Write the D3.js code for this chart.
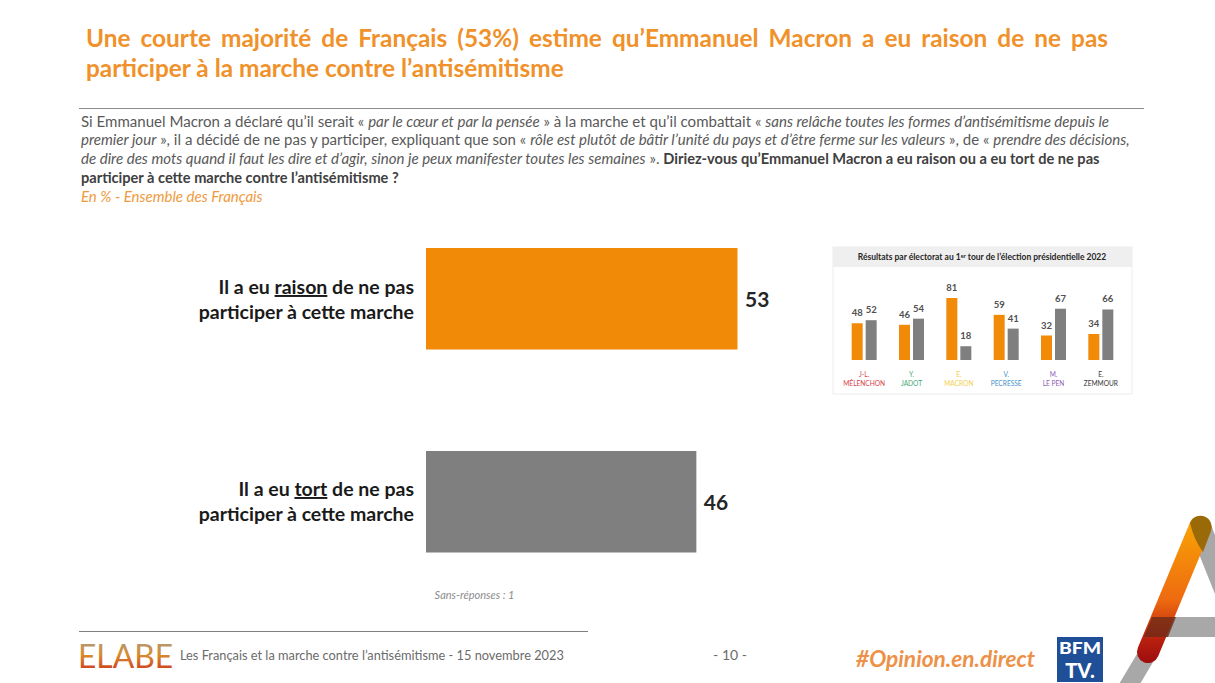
<!DOCTYPE html>
<html><head><meta charset="utf-8">
<script src="https://cdn.jsdelivr.net/npm/d3@7/dist/d3.min.js"></script>
<style>html,body{margin:0;padding:0;background:#fff;overflow:hidden}svg{display:block}text{font-family:Lato,"Open Sans",sans-serif}</style>
</head><body><svg id="c" width="1215" height="683"></svg>
<script>
const mainCats=[["Il a eu ","raison"," de ne pas","participer à cette marche"],["Il a eu ","tort"," de ne pas","participer à cette marche"]];
const mainValues=[53,46];
const mainColors=["#f18a06","#7f7f7f"];
const candidates=[["J-L.","MÉLENCHON"],["Y.","JADOT"],["E.","MACRON"],["V.","PECRESSE"],["M.","LE PEN"],["E.","ZEMMOUR"]];
const candColors=["#d8404a","#3faa78","#f2cf4e","#4a8fc8","#8e5bb5","#333333"];
const raisonValues=[48,46,81,59,32,34];
const tortValues=[52,54,18,41,67,66];
const titleLines=["Une courte majorité de Français (53%) estime qu’Emmanuel Macron a eu raison de ne pas","participer à la marche contre l’antisémitisme"];
const bodyLines=[
 [["n","Si Emmanuel Macron a déclaré qu’il serait « "],["i","par le cœur et par la pensée"],["n"," » à la marche et qu’il combattait « "],["i","sans relâche toutes les formes d’antisémitisme depuis le"]],
 [["i","premier jour"],["n"," », il a décidé de ne pas y participer, expliquant que son « "],["i","rôle est plutôt de bâtir l’unité du pays et d’être ferme sur les valeurs"],["n"," », de « "],["i","prendre des décisions,"]],
 [["i","de dire des mots quand il faut les dire et d’agir, sinon je peux manifester toutes les semaines"],["n"," ». "],["b","Diriez-vous qu’Emmanuel Macron a eu raison ou a eu tort de ne pas"]],
 [["b","participer à cette marche contre l’antisémitisme ?"]]
];
const svg=d3.select("#c");
const defs=svg.append("defs");
const g1=defs.append("linearGradient").attr("id","ag").attr("gradientUnits","userSpaceOnUse").attr("x1",0).attr("y1",527).attr("x2",0).attr("y2",660);
[[0,"#f7a006"],[.55,"#ee6a10"],[.85,"#b8200e"],[1,"#a00f0f"]].forEach(s=>g1.append("stop").attr("offset",s[0]).attr("stop-color",s[1]));
const g2=defs.append("linearGradient").attr("id","eg").attr("x1",0).attr("y1",0).attr("x2",0).attr("y2",1);
[[0,"#a0a0a0"],[.5,"#d98a2a"],[1,"#c8261c"]].forEach(s=>g2.append("stop").attr("offset",s[0]).attr("stop-color",s[1]));

// title
const title=svg.append("g").selectAll("text").data(titleLines).join("text")
 .attr("x",86).attr("y",(d,i)=>47+i*30).attr("fill","#f0912a").attr("font-size",24.4).attr("font-weight",700).text(d=>d);
title.filter((d,i)=>i===0).each(function(d){const w=this.getComputedTextLength();const n=d.split(" ").length-1;d3.select(this).attr("word-spacing",(1022-w)/n);});

svg.append("line").attr("x1",79).attr("x2",1144).attr("y1",108.5).attr("y2",108.5).attr("stroke","#8c8c8c").attr("stroke-width",1.2);

// question
const body=svg.append("g").attr("font-size",15.05).attr("fill","#595959");
bodyLines.forEach((l,i)=>{
 const t=body.append("text").attr("x",81).attr("y",126.5+i*18.9);
 l.forEach(s=>{const sp=t.append("tspan").text(s[1]);
  if(s[0]==="i")sp.attr("font-style","italic");
  if(s[0]==="b")sp.attr("font-weight",700).attr("font-size",14.6).attr("fill","#404040");});
});
svg.append("text").attr("x",81).attr("y",202).attr("font-size",15).attr("font-style","italic").attr("fill","#ef9a3c").text("En % - Ensemble des Français");

// main bars
const x=d3.scaleLinear().domain([0,53]).range([426,737.5]);
const yb=i=>[248,451][i];
svg.append("g").selectAll("rect").data(mainValues).join("rect")
 .attr("x",x(0)).attr("y",(d,i)=>yb(i)).attr("width",d=>x(d)-x(0)).attr("height",101.5).attr("fill",(d,i)=>mainColors[i]);
svg.append("g").selectAll("text").data(mainValues).join("text")
 .attr("x",d=>x(d)+7.5).attr("y",(d,i)=>yb(i)+59).attr("font-size",21).attr("font-weight",700).attr("fill","#262626").text(d=>d);
const cl=svg.append("g").attr("font-size",19.5).attr("font-weight",700).attr("fill","#1a1a1a").attr("text-anchor","end");
mainCats.forEach((c,i)=>{
 const t=cl.append("text").attr("x",414).attr("y",yb(i)+46-i);
 t.append("tspan").text(c[0]);
 t.append("tspan").attr("text-decoration","underline").text(c[1]);
 t.append("tspan").text(c[2]);
 cl.append("text").attr("x",414).attr("y",yb(i)+71-i).text(c[3]);
});
svg.append("text").attr("x",474.5).attr("y",599).attr("text-anchor","middle").attr("font-size",11).attr("font-style","italic").attr("fill","#8c8c8c").text("Sans-réponses : 1");

// inset
const ins=svg.append("g");
ins.append("rect").attr("x",833).attr("y",247).attr("width",299).attr("height",147).attr("fill","#fff").attr("stroke","#f0f0f0").attr("stroke-width",1.2);
ins.append("rect").attr("x",833).attr("y",247).attr("width",299).attr("height",20).attr("fill","#efefef");
const ht=ins.append("text").attr("x",982).attr("y",260).attr("text-anchor","middle").attr("font-size",8.5).attr("font-weight",700).attr("fill","#262626");
ht.append("tspan").text("Résultats par électorat au 1");
ht.append("tspan").attr("font-size",5.5).attr("dy",-2).text("er");
ht.append("tspan").attr("dy",2).text(" tour de l’élection présidentielle 2022");
const ix=d3.scaleBand().domain(d3.range(6)).range([840.5,1124.5]).padding(0);
const iy=d3.scaleLinear().domain([0,81]).range([360,298]);
const bw=11;
const groups=ins.selectAll(".cand").data(candidates).join("g").attr("class","cand").attr("transform",(d,i)=>`translate(${ix(i)+ix.bandwidth()/2},0)`);
function series(vals,color,dx){
 groups.append("rect").attr("x",dx).attr("y",(d,i)=>iy(vals[i])).attr("width",bw).attr("height",(d,i)=>360-iy(vals[i])).attr("fill",color);
 groups.append("text").attr("x",dx+bw/2).attr("y",(d,i)=>iy(vals[i])-7).attr("text-anchor","middle").attr("font-size",9.5).attr("font-weight",700).attr("fill","#505050").text((d,i)=>vals[i]);
}
series(raisonValues,"#f18a06",-12.5);
series(tortValues,"#7f7f7f",1.5);
groups.append("text").attr("y",376.5).attr("text-anchor","middle").attr("font-size",6.6).attr("fill",(d,i)=>candColors[i]).text(d=>d[0]);
groups.append("text").attr("y",385.5).attr("text-anchor","middle").attr("font-size",6.6).attr("fill",(d,i)=>candColors[i]).text(d=>d[1]);

// footer
svg.append("line").attr("x1",79).attr("x2",588).attr("y1",631.5).attr("y2",631.5).attr("stroke","#7f7f7f").attr("stroke-width",1.1);
svg.append("text").attr("x",78).attr("y",668).attr("font-size",33).attr("textLength",95).attr("lengthAdjust","spacingAndGlyphs").attr("font-weight",400).attr("fill","url(#eg)").text("ELABE");
svg.append("text").attr("x",180).attr("y",660).attr("font-size",12.8).attr("fill","#6b6b6b").text("Les Français et la marche contre l’antisémitisme - 15 novembre 2023");
svg.append("text").attr("x",730).attr("y",660).attr("text-anchor","middle").attr("font-size",14).attr("fill","#6b6b6b").text("- 10 -");
svg.append("text").attr("x",856).attr("y",667).attr("font-size",22.7).attr("font-weight",700).attr("font-style","italic").attr("fill","#ee9148").text("#Opinion.en.direct");
svg.append("rect").attr("x",1057).attr("y",637).attr("width",46).attr("height",45).attr("fill","#1f4f96");
svg.append("text").attr("x",1080).attr("y",654).attr("text-anchor","middle").attr("font-size",17).attr("font-weight",900).attr("fill","#fff").attr("textLength",42).attr("lengthAdjust","spacingAndGlyphs").text("BFM");
svg.append("text").attr("x",1080).attr("y",678).attr("text-anchor","middle").attr("font-size",20).attr("font-weight",900).attr("fill","#fff").text("TV.");

// A mark
const A=svg.append("g").attr("fill","none");
A.append("path").attr("d","M1200,527L1232,607").attr("stroke","#a8a8a8").attr("stroke-width",22);
A.append("path").attr("d","M1156,627L1225,627").attr("stroke","#a8a8a8").attr("stroke-width",20);
A.append("path").attr("d","M1148,653L1120,700").attr("stroke","#a8a8a8").attr("stroke-width",18);
A.append("path").attr("d","M1200,527L1148,652").attr("stroke","url(#ag)").attr("stroke-width",22).attr("stroke-linecap","round");
A.append("path").attr("d","M1190,523A11,11 0 0 1 1211,531L1203,552Q1194,540 1190,523Z").attr("fill","#9a6a08");
A.append("path").attr("d","M1152,617H1176L1168,637H1144Z").attr("fill","#6e2a18").attr("opacity",.8);
</script></body></html>
